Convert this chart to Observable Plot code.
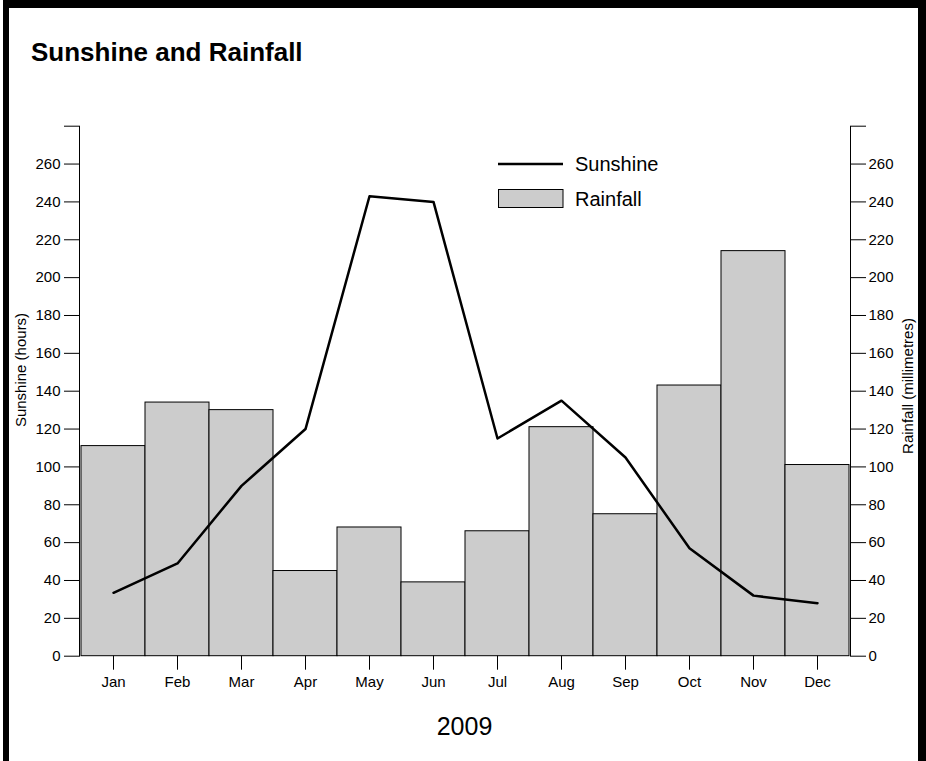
<!DOCTYPE html>
<html>
<head>
<meta charset="utf-8">
<script src="https://cdn.jsdelivr.net/npm/d3@7"></script>
<script src="https://cdn.jsdelivr.net/npm/@observablehq/plot@0.6"></script>
<style>
  html, body { margin: 0; padding: 0; background: #fff; }
  #wrap { position: relative; width: 926px; height: 761px; overflow: hidden; background: #fff;
          font-family: "Liberation Sans", Arial, Helvetica, sans-serif; }
  #border { position: absolute; left: 3px; top: 0; width: 909px; height: 900px;
            border-top: 8px solid #000; border-left: 6px solid #000; border-right: 8px solid #000; box-sizing: content-box; }
  #chart { position: absolute; left: 0; top: 0; }
  #overlay { position: absolute; left: 0; top: 0; pointer-events: none; }
</style>
</head>
<body>
<div id="wrap">
  <div id="border"></div>
  <div id="chart"></div>
  <svg id="overlay" width="926" height="761"></svg>
</div>
<script>
const months = ["Jan","Feb","Mar","Apr","May","Jun","Jul","Aug","Sep","Oct","Nov","Dec"];
const sunshine = [33.5, 49, 90, 120, 243, 240, 115, 135, 105, 57, 32, 28];
const rainfall = [111, 134, 130, 45, 68, 39, 66, 121, 75, 143, 214, 101];
const yTicks = [0, 20, 40, 60, 80, 100, 120, 140, 160, 180, 200, 220, 240, 260, 280];
const title = "Sunshine and Rainfall";
const xLabel = "2009";
const yLeftLabel = "Sunshine (hours)";
const yRightLabel = "Rainfall (millimetres)";
const seriesNames = ["Sunshine", "Rainfall"];

const data = months.map((m, i) => ({month: m, sun: sunshine[i], rain: rainfall[i]}));
const fmt = d => d === 280 ? "" : String(d);

const chart = Plot.plot({
  width: 926,
  height: 761,
  marginLeft: 79,
  marginRight: 76,
  marginTop: 125.7,
  marginBottom: 105.3,
  style: {fontFamily: '"Liberation Sans", Arial, Helvetica, sans-serif', fontSize: "15px", color: "#000", background: "transparent"},
  x: {domain: months, padding: 0},
  y: {domain: [0, 280]},
  marks: [
    Plot.barY(data, {x: "month", y: "rain", fill: "#cccccc", stroke: "#000", strokeWidth: 1}),
    Plot.line(data, {x: "month", y: "sun", stroke: "#000", strokeWidth: 2.5}),
    Plot.frame({anchor: "left", stroke: "#000"}),
    Plot.frame({anchor: "right", stroke: "#000"}),
    Plot.axisY({ticks: yTicks, tickFormat: fmt, tickSize: 15, tickPadding: 4, fontSize: 15, label: null, anchor: "left"}),
    Plot.axisY({ticks: yTicks, tickFormat: fmt, tickSize: 15, tickPadding: 3, fontSize: 15, label: null, anchor: "right"}),
    Plot.axisX({tickSize: 14, tickPadding: 6, fontSize: 15, label: null})
  ]
});
document.getElementById("chart").appendChild(chart);

// Annotations: title, legend, axis titles
const ov = d3.select("#overlay").attr("font-family", '"Liberation Sans", Arial, Helvetica, sans-serif');
ov.append("text").attr("x", 31).attr("y", 61).attr("font-size", 26).attr("font-weight", "bold").text(title);
ov.append("text").attr("x", 464.5).attr("y", 735).attr("font-size", 25).attr("text-anchor", "middle").text(xLabel);
ov.append("text").attr("transform", "translate(26,370) rotate(-90)").attr("font-size", 15).attr("text-anchor", "middle").text(yLeftLabel);
ov.append("text").attr("transform", "translate(913,386) rotate(-90)").attr("font-size", 15).attr("text-anchor", "middle").text(yRightLabel);
// legend
ov.append("line").attr("x1", 498).attr("x2", 563).attr("y1", 164).attr("y2", 164).attr("stroke", "#000").attr("stroke-width", 2.5);
ov.append("text").attr("x", 575).attr("y", 164).attr("dy", "0.35em").attr("font-size", 20).text(seriesNames[0]);
ov.append("rect").attr("x", 498.5).attr("y", 189.5).attr("width", 64.5).attr("height", 18).attr("fill", "#cccccc").attr("stroke", "#000").attr("stroke-width", 1);
ov.append("text").attr("x", 575).attr("y", 198.5).attr("dy", "0.35em").attr("font-size", 20).text(seriesNames[1]);
</script>
</body>
</html>
